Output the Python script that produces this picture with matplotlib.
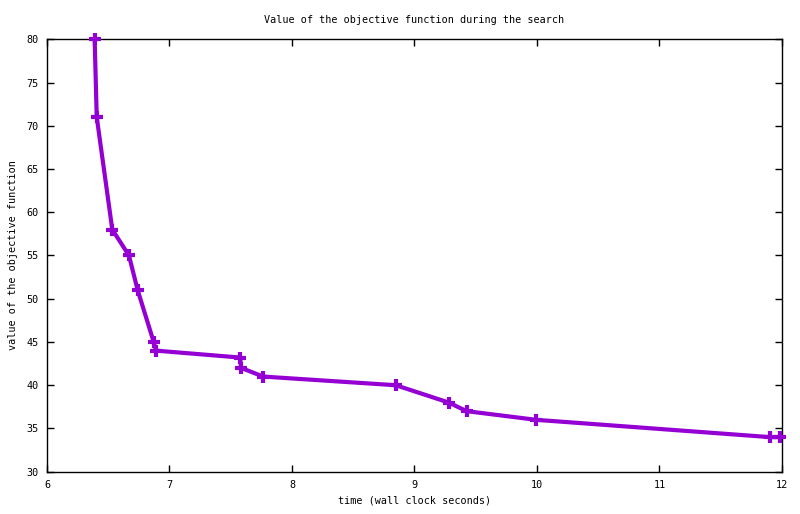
import matplotlib
matplotlib.use("Agg")
import matplotlib.pyplot as plt

time_s = [6.389, 6.406, 6.533, 6.669, 6.740, 6.871, 6.890, 7.576, 7.585, 7.765,
          8.847, 9.279, 9.426, 9.992, 11.90, 11.98]
objective = [80, 71, 58, 55, 51, 45, 44, 43.2, 42, 41, 40, 38, 37, 36, 34, 34]

x_ticks = [6, 7, 8, 9, 10, 11, 12]
y_ticks = [30, 35, 40, 45, 50, 55, 60, 65, 70, 75, 80]

plt.rcParams['font.family'] = ['DejaVu Sans Mono']
fig = plt.figure(figsize=(8, 5.14), dpi=100)
ax = fig.add_axes([47/800, 1-471.7/514, (782-47)/800, (471.7-39.3)/514])

ax.plot(time_s, objective, color='#9400D3', linewidth=3.0, marker='+',
        markersize=9, markeredgewidth=3, clip_on=False, zorder=3)

ax.set_xlim(6, 12)
ax.set_ylim(30, 80)
ax.set_xticks(x_ticks)
ax.set_yticks(y_ticks)
ax.tick_params(direction='in', length=5, width=1, top=True, right=True,
               labelsize=7.3, pad=6)
for s in ax.spines.values():
    s.set_linewidth(1)
ax.set_title('Value of the objective function during the search', fontsize=7.25, pad=12)
ax.set_xlabel('time (wall clock seconds)', fontsize=7.25, labelpad=4)
ax.set_ylabel('value of the objective function', fontsize=7.25, labelpad=6)

fig.savefig('out.png', dpi=100)
